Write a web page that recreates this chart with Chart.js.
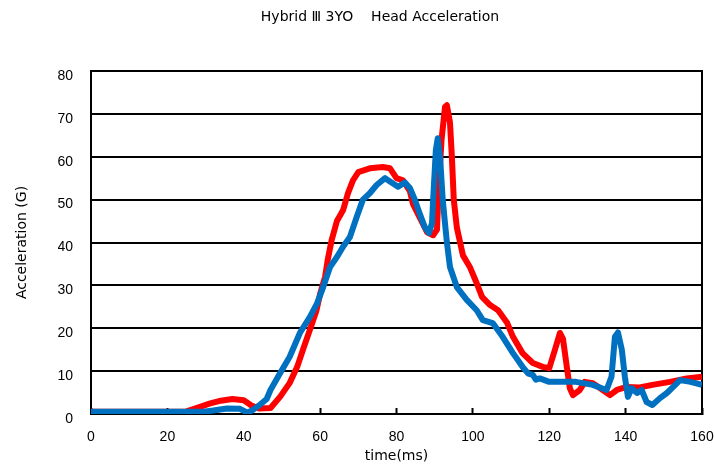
<!DOCTYPE html>
<html lang="en">

<head>
    <meta charset="UTF-8">
    <script src="https://cdn.jsdelivr.net/npm/chart.js@4.4.1/dist/chart.umd.min.js"></script>
    <title>Head Acceleration</title>
    <style>
        body { margin: 0; background: #fff; }
        .container { width: 715px; height: 467px; }
    </style>
</head>

<body>
    <div class="container">
        <canvas id="accelChart"></canvas>
    </div>
</body>

</html>
<script type="text/javascript">
    // test run 1 (red) and test run 2 (blue), time in ms, acceleration in G
    var redTime = [0, 10, 20, 25, 28, 31, 34, 37, 40, 42, 44, 47, 49.5, 52, 54, 55.5, 57.3, 59, 60, 61.3,
        62, 63, 64.4, 66, 67.3, 68.6, 70, 73, 76.4, 78.3, 80, 81.7, 83.5, 84.3, 86, 88, 89.6, 90.6, 91, 91.8,
        92.7, 93.2, 94, 94.5, 95, 95.8, 97.4, 99.2, 101, 102.4, 104.5, 106.6, 109, 110.5, 113, 115.7, 118.3, 120, 121.5, 122.8,
        123.6, 124.6, 125.4, 126.2, 128, 129.3, 131.4, 134, 135.9, 137.7, 140.3, 143.7, 147, 151.6, 156, 160];
    var redAccel = [0.5, 0.5, 0.5, 0.6, 1.5, 2.4, 3.1, 3.5, 3.2, 2.0, 1.3, 1.4, 4, 7.2, 11, 15, 19.6, 24, 28, 32,
        36, 40.5, 45, 47.5, 51.5, 54.5, 56.4, 57.3, 57.6, 57.3, 55, 54.5, 52, 49, 46, 42.4, 41.7, 43, 52, 64,
        71.6, 72, 68, 60, 50, 43.5, 37, 34.3, 30.5, 27.3, 25.4, 24.2, 21.2, 18, 14.2, 11.9, 11, 10.7, 15, 18.9,
        17.5, 11, 6, 4.4, 5.6, 7.5, 7.2, 5.6, 4.4, 5.6, 6.3, 6.2, 6.8, 7.5, 8.3, 8.7];

    var blueTime = [0, 29, 32, 35.6, 39, 41, 42.5, 44, 46, 47, 49.5, 52, 54.7, 57.3, 59.2, 60.8, 62.6, 64.4, 66, 67.8,
        69.6, 71.2, 73, 74.8, 77, 79, 80.4, 82.2, 83.5, 84.8, 86, 87.4, 88.5, 89.3, 89.6, 90.3, 90.8, 91.4, 92.1, 92.7,
        93.2, 94, 95.8, 98.4, 101, 102.6, 105.2, 107.8, 110.5, 113, 114.5, 115.7, 116.5, 117.5, 120, 124.6, 127, 131.4, 135, 136.3,
        137.2, 138, 139, 139.8, 140.6, 141.6, 143, 144.2, 145.5, 147, 149, 150.8, 153, 154.2, 157, 160];
    var blueAccel = [0.5, 0.5, 0.8, 1.3, 1.2, 0.3, 1.0, 2, 3.5, 5.6, 9.5, 13.3, 18.9, 22.6, 25.8, 29.6, 34.3, 36.6, 39, 41.3,
        46, 50, 51.5, 53.4, 55, 53.8, 53, 54, 52.7, 50, 46.9, 43.6, 42.2, 44.5, 50, 61.5, 64.3, 60, 50, 44.5,
        40, 34.3, 29.6, 26.6, 24.2, 21.9, 21.2, 18, 14.2, 11, 9.4, 9.1, 8.0, 8.3, 7.5, 7.5, 7.5, 6.8, 5.6, 8.7,
        18, 19, 15, 8.7, 4, 6, 4.9, 5.6, 2.8, 2.1, 3.7, 4.9, 6.8, 7.9, 7.5, 6.8];

    var xTicks = [0, 20, 40, 60, 80, 100, 120, 140, 160];
    var yTicks = [0, 10, 20, 30, 40, 50, 60, 70, 80];

    function toPoints(times, values) {
        var pts = [];
        for (var i = 0; i < times.length; i++) {
            pts.push({ x: times[i], y: values[i] });
        }
        return pts;
    }

    var tickFont = { family: 'Liberation Sans', size: 14 };
    var labelFont = { family: 'DejaVu Sans', size: 14 };

    var chartDiv = document.getElementById('accelChart');
    var myChart = new Chart(chartDiv, {
        type: 'line',
        data: {
            datasets: [
                {
                    data: toPoints(redTime, redAccel),
                    borderColor: '#ff0000',
                    borderWidth: 6,
                    pointRadius: 0,
                    tension: 0,
                    borderJoinStyle: 'round',
                    order: 2
                },
                {
                    data: toPoints(blueTime, blueAccel),
                    borderColor: '#0070c0',
                    borderWidth: 6,
                    pointRadius: 0,
                    tension: 0,
                    borderJoinStyle: 'round',
                    order: 1
                }]
        },
        options: {
            responsive: true,
            maintainAspectRatio: false,
            animation: false,
            layout: { padding: { left: 58, right: 13, top: 0, bottom: 0 } },
            plugins: {
                legend: { display: false },
                tooltip: { enabled: false },
                title: {
                    display: true,
                    text: 'Hybrid \u2162 3YO    Head Acceleration',
                    color: '#000',
                    font: { family: 'DejaVu Sans', size: 14, weight: 'normal' },
                    padding: { top: 9, bottom: 45.2 }
                }
            },
            scales: {
                x: {
                    type: 'linear',
                    min: 0,
                    max: 160,
                    afterBuildTicks: function (s) {
                        s.ticks = xTicks.map(function (v) { return { value: v }; });
                    },
                    afterFit: function (s) {
                        s.height = 53;
                        // keep the end labels from shrinking the plot
                        s.paddingLeft = 0;
                        s.paddingRight = 0;
                    },
                    grid: {
                        drawOnChartArea: false,
                        drawTicks: true,
                        tickLength: -6,
                        color: '#000',
                        tickWidth: 2
                    },
                    border: { color: '#000', width: 2 },
                    ticks: { color: '#000', font: tickFont, padding: 21, maxRotation: 0 },
                    title: {
                        display: true,
                        text: 'time(ms)',
                        color: '#000',
                        font: labelFont,
                        padding: { top: 0, bottom: 2 }
                    }
                },
                y: {
                    min: 0,
                    max: 80,
                    afterBuildTicks: function (s) {
                        s.ticks = yTicks.map(function (v) { return { value: v }; });
                    },
                    afterFit: function (s) { s.width = 33; },
                    grid: { color: '#000', lineWidth: 2, drawTicks: false },
                    border: { color: '#000', width: 2 },
                    ticks: { color: '#000', font: tickFont, padding: 18, labelOffset: 5 },
                    title: {
                        display: true,
                        text: 'Acceleration (G)',
                        color: '#000',
                        font: labelFont,
                        padding: { top: -44, bottom: 0 }
                    }
                },
                // frame line on the right side of the plot
                yRight: {
                    position: 'right',
                    min: 0,
                    max: 80,
                    afterFit: function (s) { s.width = 0; },
                    grid: { drawOnChartArea: false, drawTicks: false },
                    border: { color: '#000', width: 2 },
                    ticks: { display: false }
                }
            }
        }
    });
</script>
